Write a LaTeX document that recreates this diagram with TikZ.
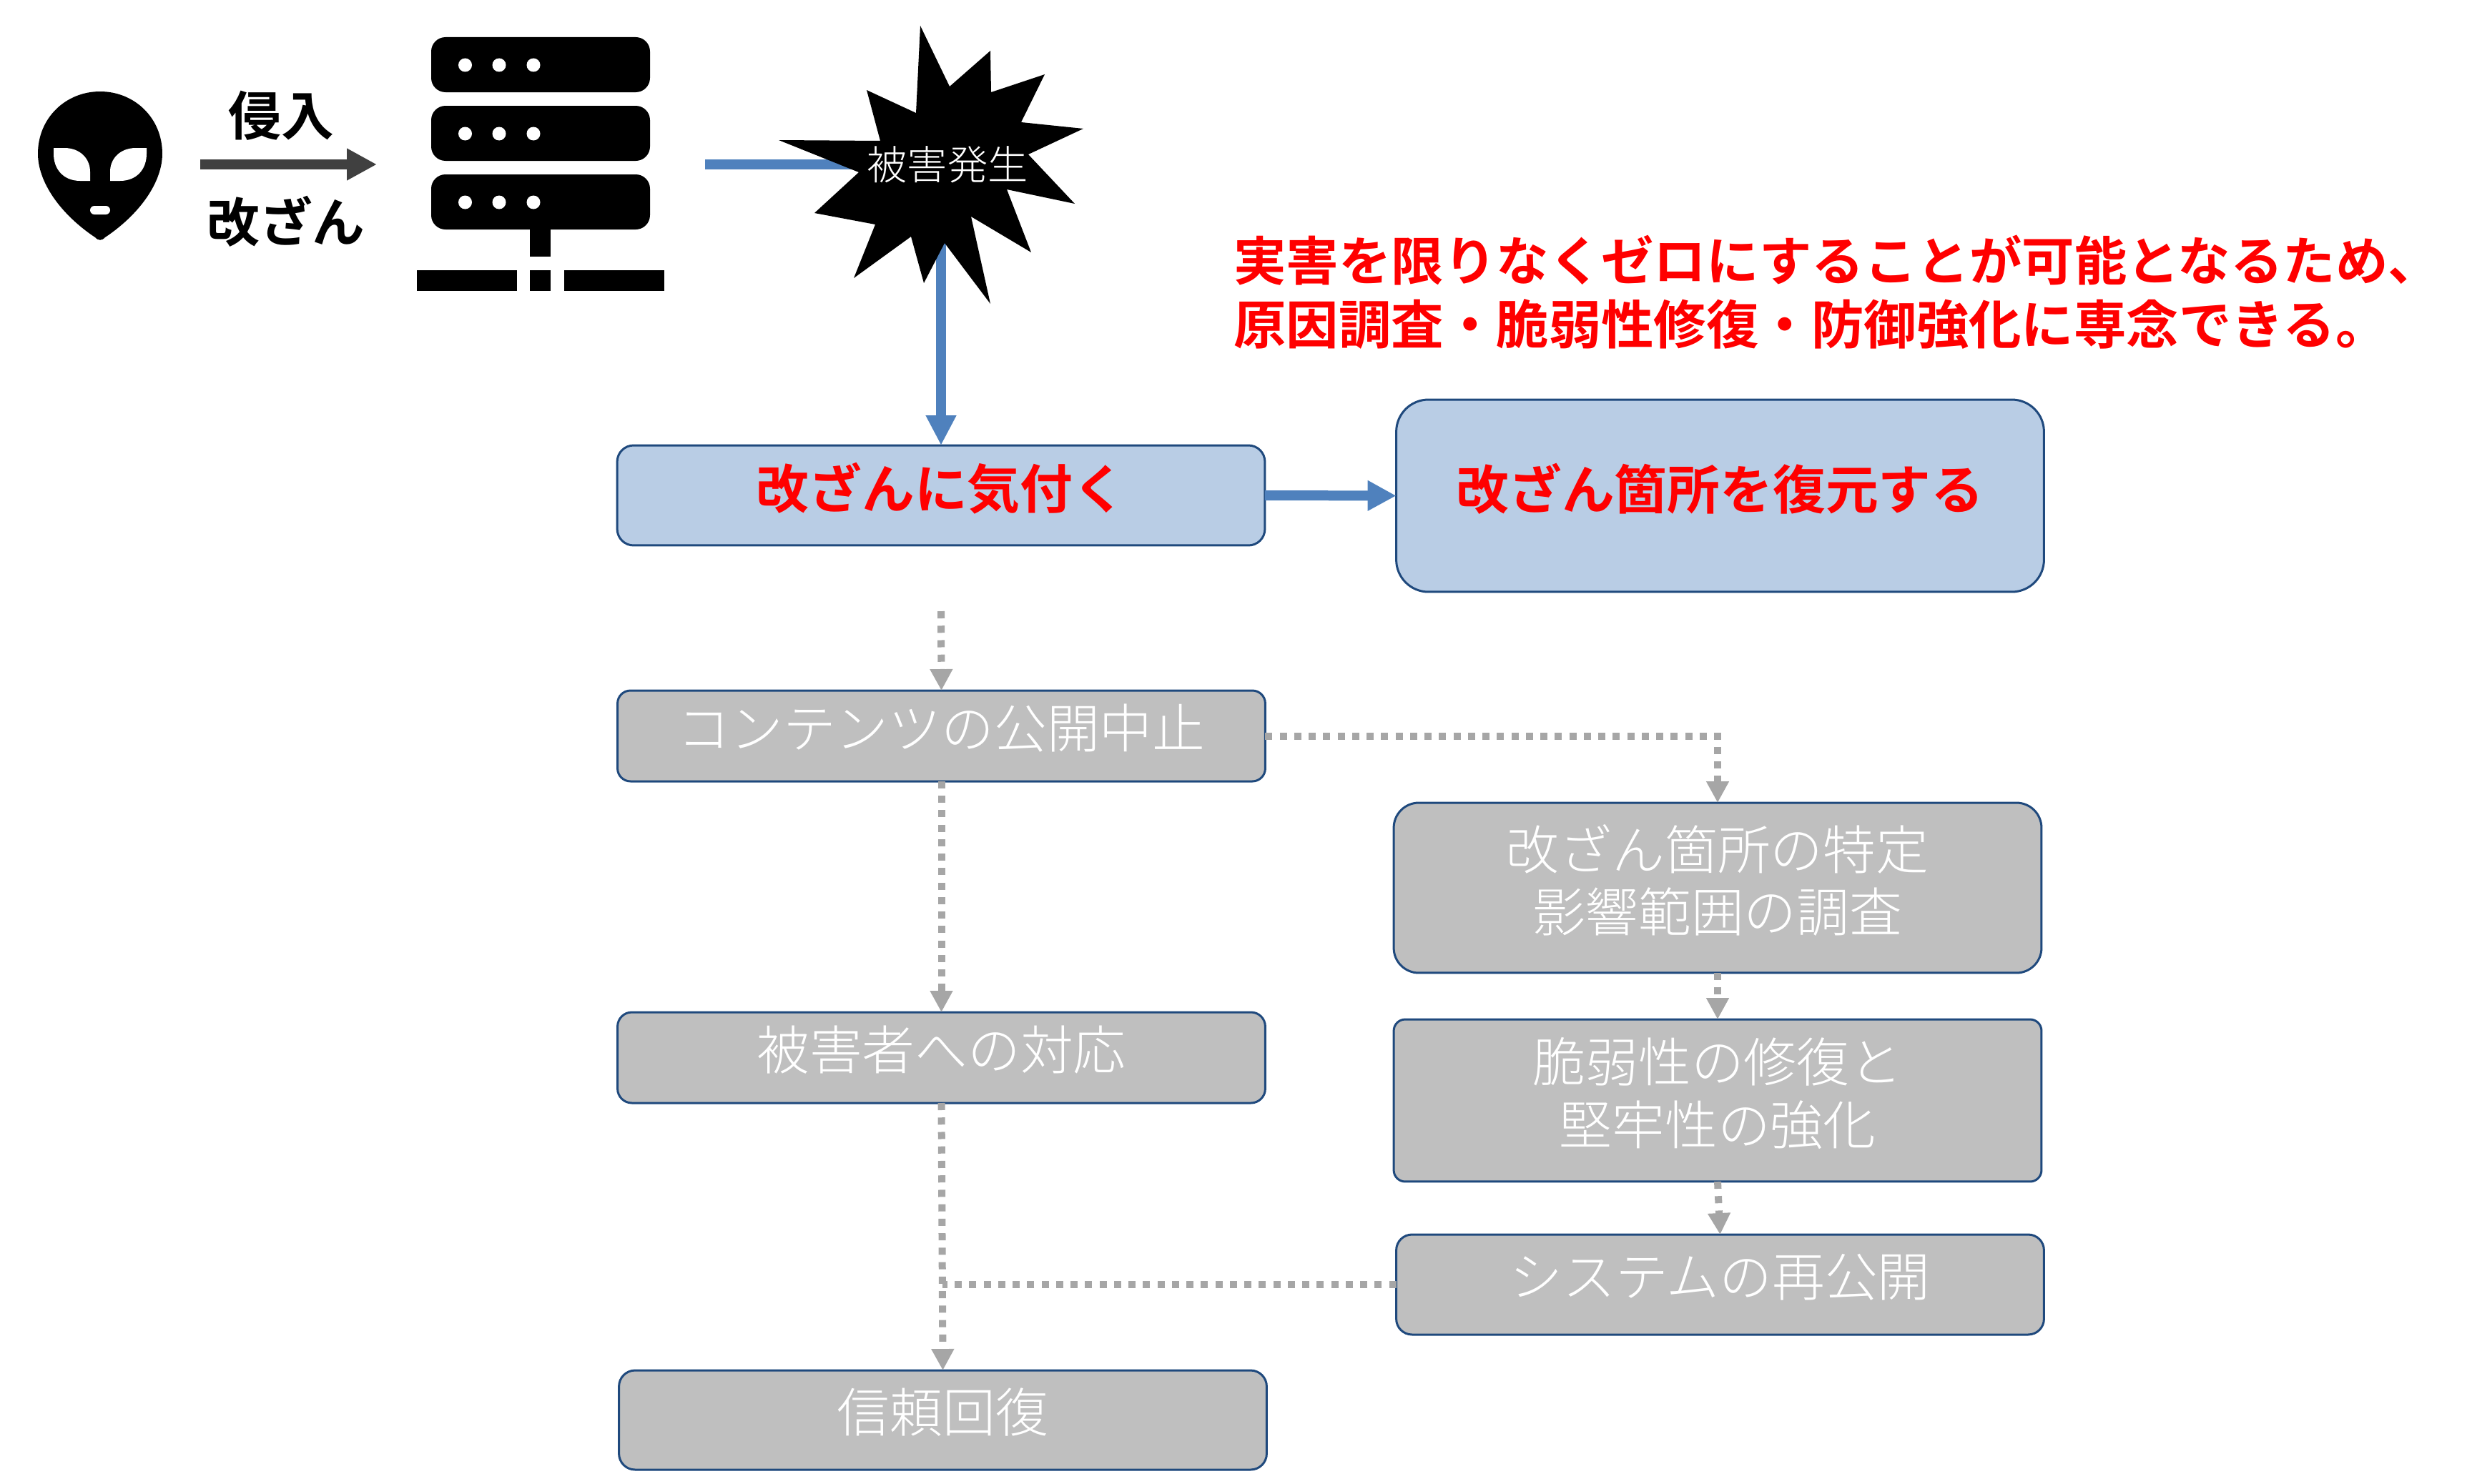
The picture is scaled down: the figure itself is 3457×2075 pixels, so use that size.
\documentclass[tikz,border=0pt]{standalone}
\usepackage{fontspec}
\usetikzlibrary{arrows.meta}
\setmainfont{Noto Sans CJK JP Light}
\newfontfamily\heavyjp{Noto Sans CJK JP Bold}
\definecolor{boxedge}{HTML}{1F497D}
\definecolor{paleblue}{HTML}{B9CDE5}
\definecolor{steelblue}{HTML}{4F81BD}
\definecolor{boxgrey}{HTML}{BFBFBF}
\definecolor{linegrey}{HTML}{A6A6A6}
\definecolor{darkline}{HTML}{404040}
\tikzset{
  flowbox/.style={draw=boxedge,line width=.06cm,outer sep=0pt,inner sep=0pt,
    minimum width=18.12cm,align=center,
    execute at end node={\rule[-.54cm]{0pt}{.54cm}}},
  activebox/.style={flowbox,fill=paleblue,text=red,
    font=\heavyjp\fontsize{42}{50}\selectfont},
  idlebox/.style={flowbox,fill=boxgrey,text=white,
    font=\fontsize{42}{50}\selectfont},
  boldlabel/.style={inner sep=0pt,font=\heavyjp\fontsize{42}{50}\selectfont},
  bluelink/.style={draw=steelblue,line width=.28cm,
    -{Triangle[length=.84cm,width=.8cm]}},
  greylink/.style={draw=linegrey,line width=.2cm,dash pattern=on .2cm off .205cm,
    -{Triangle[length=.6cm,width=.6cm]}},
  greyrun/.style={draw=linegrey,line width=.2cm,dash pattern=on .2cm off .205cm},
}
\begin{document}
\begin{tikzpicture}[x=0.02cm,y=-0.02cm]
\useasboundingbox (0,0) rectangle (3457,2075);

% intruder's face
\fill[black] (140,128) .. controls (92,128) and (53,165) .. (53,215)
  .. controls (53,255) and (85,300) .. (133,332)
  .. controls (138,337) and (142,337) .. (147,332)
  .. controls (195,300) and (227,255) .. (227,215)
  .. controls (227,165) and (188,128) .. (140,128) -- cycle;
\fill[white] (75,207) -- (90,207) .. controls (112,207) and (126,222) .. (126,240)
  -- (126,253) -- (112,253) .. controls (90,253) and (75,238) .. (75,215) -- cycle;
\fill[white] (205,207) -- (190,207) .. controls (168,207) and (154,222) .. (154,240)
  -- (154,253) -- (168,253) .. controls (190,253) and (205,238) .. (205,215) -- cycle;
\fill[white,rounded corners=.12cm] (126,288) rectangle (154,300);

% intrusion arrow and its captions
\coordinate (intruder) at (280,230);
\coordinate (rack) at (527,230);
\draw[draw=darkline,line width=.28cm,-{Triangle[length=.84cm,width=.84cm]}] (intruder) -- (rack);
\node[boldlabel] (intrude) at (393,162) {侵入};
\node[boldlabel] (tamper) at (400,310) {改ざん};

% server rack
\foreach \top in {52,148,244}{
  \fill[black,rounded corners=.4cm] (603,\top) rectangle (909,\top+77);
  \foreach \dotx in {650.5,698,746}
    \fill[white] (\dotx,\top+39) circle[radius=9.5];
}
\fill[black] (741,321) rectangle (770,359);
\fill[black] (583,378) rectangle (723,407);
\fill[black] (741,378) rectangle (770,407);
\fill[black] (789,378) rectangle (929,407);

% flow boxes
\node[activebox,minimum height=2.8cm,rounded corners=.46cm] (notice) at (1316,693) {改ざんに気付く};
\node[activebox,minimum height=5.38cm,rounded corners=.9cm] (restore) at (2405.5,693.5) {改ざん箇所を復元する};
\node[idlebox,minimum height=2.54cm,rounded corners=.36cm] (halt) at (1316.5,1029.5) {コンテンツの公開中止};
\node[idlebox,minimum height=4.76cm,rounded corners=.7cm] (affect) at (2402,1242) {改ざん箇所の特定\\影響範囲の調査};
\node[idlebox,minimum height=4.54cm,rounded corners=.32cm] (harden) at (2402,1539.5) {脆弱性の修復と\\堅牢性の強化};
\node[idlebox,minimum height=2.54cm,rounded corners=.4cm] (victim) at (1316.5,1479.5) {被害者への対応};
\node[idlebox,minimum height=2.8cm,rounded corners=.44cm] (republish) at (2405.5,1797) {システムの再公開};
\node[idlebox,minimum height=2.78cm,rounded corners=.45cm] (trust) at (1318.5,1986.5) {信頼回復};

% connectors
\coordinate (burst) at (1316,230);
\coordinate (impact) at (986,230);
\coordinate (noticeout) at (1316,855);
\coordinate (merge) at (1318,1797);
\draw[draw=steelblue,line width=.28cm] (impact) -- (burst);
\draw[bluelink] (burst) -- (notice.north);
\draw[bluelink,-{Triangle[length=.8cm,width=.8cm]}] (notice.east) -- (restore.west);
\draw[greylink] (noticeout) -- (halt.north);
\draw[greylink] (halt.east) -| (affect.north);
\draw[greylink] (halt.south) -- (victim.north);
\draw[greylink] (affect.south) -- (harden.north);
\draw[greylink] (harden.south) -- (republish.north);
\draw[greylink] (victim.south) -- (trust.north);
\draw[greyrun] (republish.west) -- (merge);

% damage burst
\fill[black] (1287,36) -- (1328,121) -- (1385,71) -- (1386,129) -- (1461,104)
  -- (1428,171) -- (1515,180) -- (1438,216) -- (1503,285) -- (1408,265)
  -- (1442,353) -- (1358,303) -- (1385,425) -- (1321,340) -- (1292,396)
  -- (1274,331) -- (1194,389) -- (1224,314) -- (1139,298) -- (1201,241)
  -- (1089,196) -- (1231,197) -- (1212,126) -- (1281,158) -- cycle;
\node[inner sep=0pt,text=white,font=\fontsize{32}{36}\selectfont] (burstlabel) at (1325,230) {被害発生};

% note above the recovery box
\node[anchor=west,inner sep=0pt,align=left,text=red,font=\heavyjp\fontsize{41.8}{50.6}\selectfont] (note) at (1725,409)
  {実害を限りなくゼロにすることが可能となるため、\\原因調査・脆弱性修復・防御強化に専念できる。};
\end{tikzpicture}
\end{document}
